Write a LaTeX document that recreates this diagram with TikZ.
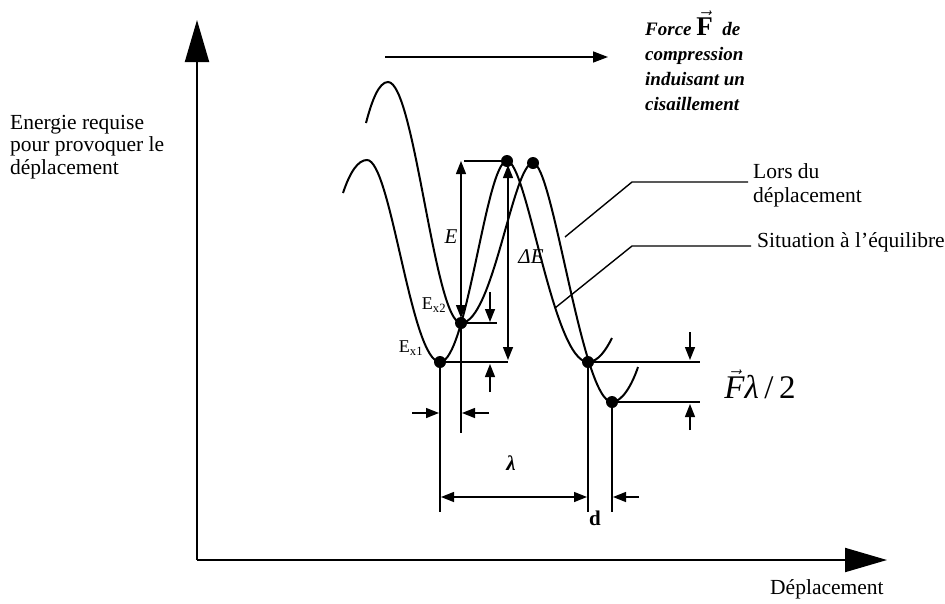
\documentclass[tikz,border=0pt]{standalone}
\usepackage{fontspec}
\setmainfont{Liberation Serif}
\usetikzlibrary{arrows.meta}
\begin{document}
\begin{tikzpicture}[x=1pt,y=-1pt,
  curve/.style={line width=2pt},
  dim/.style={line width=1.4pt},
  dimarr/.style={dim,-{Triangle[length=13pt,width=10pt]}},
  dimboth/.style={dim,{Triangle[length=13pt,width=10pt]}-{Triangle[length=13pt,width=10pt]}},
  axisarr/.style={line width=2pt,-{Triangle[length=42pt,width=24pt]}},
  forcearr/.style={line width=1.5pt,-{Triangle[length=15pt,width=11pt]}},
  dot/.style={circle,fill,inner sep=0pt,minimum size=12pt},
  txt/.style={inner sep=0pt,align=left,font=\fontsize{21.5}{22.5}\selectfont},
  small/.style={inner sep=0pt,font=\fontsize{18}{20}\selectfont}]
\useasboundingbox (0,0) rectangle (945,603);
% axes
\coordinate (O) at (197,560);
\coordinate (ytip) at (197,20);
\coordinate (xtip) at (887,560);
\draw[axisarr] (O) -- (ytip);
\draw[axisarr] (O) -- (xtip);
% force arrow
\coordinate (fa) at (385,57);
\coordinate (fb) at (608,57);
\draw[forcearr] (fa) -- (fb);
% curve A (equilibrium)
\draw[curve] (343,193) .. controls (350,172) and (358,160) .. (367,160)
  .. controls (391,160) and (411,362) .. (440,362)
  .. controls (467,362) and (486,161) .. (507,161)
  .. controls (527,161) and (553,362) .. (588,362)
  .. controls (598,362) and (606,350) .. (612,338);
% curve B (during displacement)
\draw[curve] (366,123) .. controls (372,100) and (379,82) .. (388,82)
  .. controls (414.6,82) and (434.4,323) .. (461,323)
  .. controls (493,323) and (513,163) .. (533,163)
  .. controls (553,163) and (582,402) .. (612,402)
  .. controls (622,402) and (632,385) .. (638,367);
% dots
\node[dot] (ex1) at (440,362) {};
\node[dot] (ex2) at (461,323) {};
\node[dot] (pa) at (507,161) {};
\node[dot] (pb) at (533,163) {};
\node[dot] (ma) at (588,362) {};
\node[dot] (mb) at (612,402) {};
% E dimension
\coordinate (Etop) at (461,161);
\coordinate (Ebot) at (461,318);
\coordinate (Etl) at (464,161);
\draw[dim] (Etl) -- (pa.center);
\draw[dimboth] (Etop) -- (Ebot);
\coordinate (ex2low) at (461,433);
\draw[dim] (ex2.center) -- (ex2low);
\node[inner sep=0pt,font=\fontsize{21}{22}\selectfont\itshape] (Elab) at (451,237) {E};
% Delta E dimension
\coordinate (DEtop) at (508,165);
\coordinate (DEbot) at (508,360);
\coordinate (DEr) at (508,362);
\draw[dimboth] (DEtop) -- (DEbot);
\draw[dim] (ex1.center) -- (DEr);
\node[inner sep=0pt,font=\fontsize{21}{22}\selectfont\itshape] (DElab) at (531,257) {ΔE};
% small Ex2-Ex1 dimension
\coordinate (sx2r) at (497,323);
\draw[dim] (ex2.center) -- (sx2r);
\coordinate (s1a) at (490,292);
\coordinate (s1b) at (490,322);
\coordinate (s2a) at (490,392);
\coordinate (s2b) at (490,364);
\draw[dimarr] (s1a) -- (s1b);
\draw[dimarr] (s2a) -- (s2b);
% labels Ex
\node[small] (Ex1lab) at (411,348) {E\textsubscript{x1}};
\node[small] (Ex2lab) at (434,305) {E\textsubscript{x2}};
% verticals
\coordinate (ex1low) at (440,512);
\coordinate (malow) at (588,512);
\coordinate (mblow) at (612,512);
\draw[dim] (ex1.center) -- (ex1low);
\draw[dim] (ma.center) -- (malow);
\draw[dim] (mb.center) -- (mblow);
% small horizontal d arrows
\coordinate (h1a) at (412,413);
\coordinate (h1b) at (439,413);
\coordinate (h2a) at (489,413);
\coordinate (h2b) at (462,413);
\draw[dimarr] (h1a) -- (h1b);
\draw[dimarr] (h2a) -- (h2b);
% lambda
\coordinate (la) at (441,497);
\coordinate (lb) at (587,497);
\draw[dimboth] (la) -- (lb);
\node[inner sep=0pt,font=\fontsize{21}{22}\selectfont\bfseries\itshape] (lamlab) at (511,463) {λ};
\coordinate (da) at (639,497);
\coordinate (db) at (613,497);
\draw[dimarr] (da) -- (db);
\node[inner sep=0pt,font=\fontsize{21}{22}\selectfont\bfseries] (dlab) at (595,518) {d};
% right F lambda/2 dimension
\coordinate (mar) at (700,362);
\coordinate (mbr) at (700,402);
\draw[dim] (ma.center) -- (mar);
\draw[dim] (mb.center) -- (mbr);
\coordinate (r1a) at (690,332);
\coordinate (r1b) at (690,360);
\coordinate (r2a) at (690,430);
\coordinate (r2b) at (690,404);
\draw[dimarr] (r1a) -- (r1b);
\draw[dimarr] (r2a) -- (r2b);
\node[inner sep=0pt,font=\fontsize{33}{34}\selectfont] (Flab) at (760,384) {$\vec{\mbox{\itshape F}}$\textit{λ}\,/\,2};
% leader lines
\coordinate (c1) at (565,237);
\coordinate (k1) at (632,182);
\coordinate (e1) at (748,182);
\draw[dim] (c1) -- (k1) -- (e1);
\coordinate (c2) at (555,308);
\coordinate (k2) at (632,246);
\coordinate (e2) at (751,246);
\draw[dim] (c2) -- (k2) -- (e2);
% texts
\node[txt,anchor=base west] (ylab) at (10,174) {Energie requise\\pour provoquer le\\déplacement};
\node[txt,anchor=base west,font=\fontsize{21.5}{24}\selectfont] (lors) at (753,202) {Lors du\\déplacement};
\node[txt,anchor=base west] (sit) at (757,247) {Situation à l’équilibre};
\node[txt,anchor=base west] (xlab) at (770,594) {Déplacement};
\node[txt,anchor=base west,font=\fontsize{19}{25}\selectfont\bfseries\itshape] (force) at (645,110)
  {Force {\fontsize{27}{27}\selectfont$\vec{\mbox{\bfseries\upshape F}}$}\ \ de\\compression\\induisant un\\cisaillement};
\end{tikzpicture}
\end{document}
